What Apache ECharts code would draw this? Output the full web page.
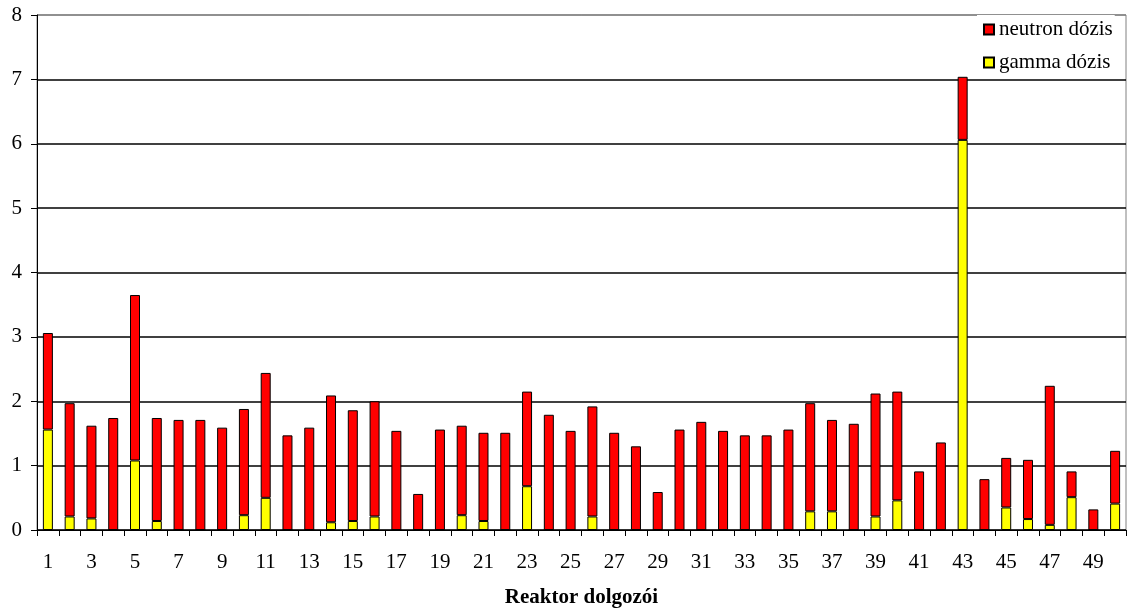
<!DOCTYPE html>
<html>
<head>
<meta charset="utf-8">
<script src="https://cdn.jsdelivr.net/npm/echarts@6/dist/echarts.min.js"></script>
<style>
  html, body { margin: 0; padding: 0; background: #fff; }
  #chart { width: 1128px; height: 613px; }
</style>
</head>
<body>
<div id="chart"></div>
<script>
// Workers 1..50
const workers = Array.from({ length: 50 }, (_, i) => String(i + 1));

// Total dose per worker (gamma + neutron)
const totalDose = [
  3.06, 1.97, 1.62, 1.74, 3.65, 1.74, 1.71, 1.71, 1.59, 1.88,
  2.44, 1.47, 1.59, 2.09, 1.86, 2.00, 1.54, 0.56, 1.56, 1.62,
  1.51, 1.51, 2.15, 1.79, 1.54, 1.92, 1.51, 1.30, 0.59, 1.56,
  1.68, 1.54, 1.47, 1.47, 1.56, 1.97, 1.71, 1.65, 2.12, 2.15,
  0.91, 1.36, 7.04, 0.79, 1.12, 1.09, 2.24, 0.91, 0.32, 1.23
];

// Gamma dose per worker
const gammaDose = [
  1.56, 0.21, 0.18, 0, 1.08, 0.14, 0, 0, 0, 0.23,
  0.50, 0, 0, 0.12, 0.14, 0.21, 0, 0, 0, 0.23,
  0.14, 0, 0.68, 0, 0, 0.21, 0, 0, 0, 0,
  0, 0, 0, 0, 0, 0.29, 0.29, 0, 0.21, 0.46,
  0, 0, 6.06, 0, 0.35, 0.17, 0.08, 0.51, 0, 0.41
];

// Neutron dose = total minus gamma
const neutronDose = totalDose.map((t, i) => +(t - gammaDose[i]).toFixed(2));

const yTicks = [0, 1, 2, 3, 4, 5, 6, 7, 8];

const serif = '"Liberation Serif", "DejaVu Serif", serif';
const chart = echarts.init(document.getElementById('chart'), null, { renderer: 'canvas' });

// top gridline is grey like the frame, the rest are black
const gridColors = yTicks.map(v => (v === 8 ? '#808080' : '#000'));

chart.setOption({
  animation: false,
  backgroundColor: '#fff',
  grid: {
    left: 37, right: 2, top: 15, bottom: 83,
    outerBoundsMode: 'none',
    containLabel: false,
    show: true, borderColor: '#808080', borderWidth: 1
  },
  legend: {
    data: ['neutron dózis', 'gamma dózis'],
    orient: 'vertical',
    left: 977,
    top: 15,
    icon: 'rect',
    itemWidth: 10,
    itemHeight: 10,
    itemGap: 12,
    itemTextGap: 10,
    padding: [4, 2, 4, 6],
    backgroundColor: '#fff',
    borderWidth: 0,
    textStyle: { fontFamily: serif, fontSize: 21, color: '#000' }
  },
  xAxis: {
    type: 'category',
    data: workers,
    boundaryGap: true,
    name: 'Reaktor dolgozói',
    nameLocation: 'middle',
    nameGap: 57,
    nameTextStyle: { fontFamily: serif, fontSize: 21, fontWeight: 'bold', color: '#000' },
    axisLine: { lineStyle: { color: '#000', width: 1 } },
    axisTick: { show: true, interval: 0, length: 6, lineStyle: { color: '#000' } },
    axisLabel: { interval: 1, margin: 22, fontFamily: serif, fontSize: 21, color: '#000' },
    splitLine: { show: false }
  },
  yAxis: {
    type: 'value',
    min: 0, max: 8, interval: 1,
    axisLine: { show: true, lineStyle: { color: '#000', width: 1 } },
    axisTick: { show: true, length: 6, lineStyle: { color: '#000' } },
    axisLabel: { margin: 15, fontFamily: serif, fontSize: 21, color: '#000' },
    splitLine: { show: true, lineStyle: { color: gridColors, width: 1.5 } }
  },
  series: [
    {
      name: 'gamma dózis',
      type: 'bar',
      stack: 'dose',
      data: gammaDose,
      barWidth: 10,
      itemStyle: { color: '#ffff00', borderColor: '#000', borderWidth: 1 }
    },
    {
      name: 'neutron dózis',
      type: 'bar',
      stack: 'dose',
      data: neutronDose,
      barWidth: 10,
      itemStyle: { color: '#ff0000', borderColor: '#000', borderWidth: 1 }
    }
  ]
});
</script>
</body>
</html>
